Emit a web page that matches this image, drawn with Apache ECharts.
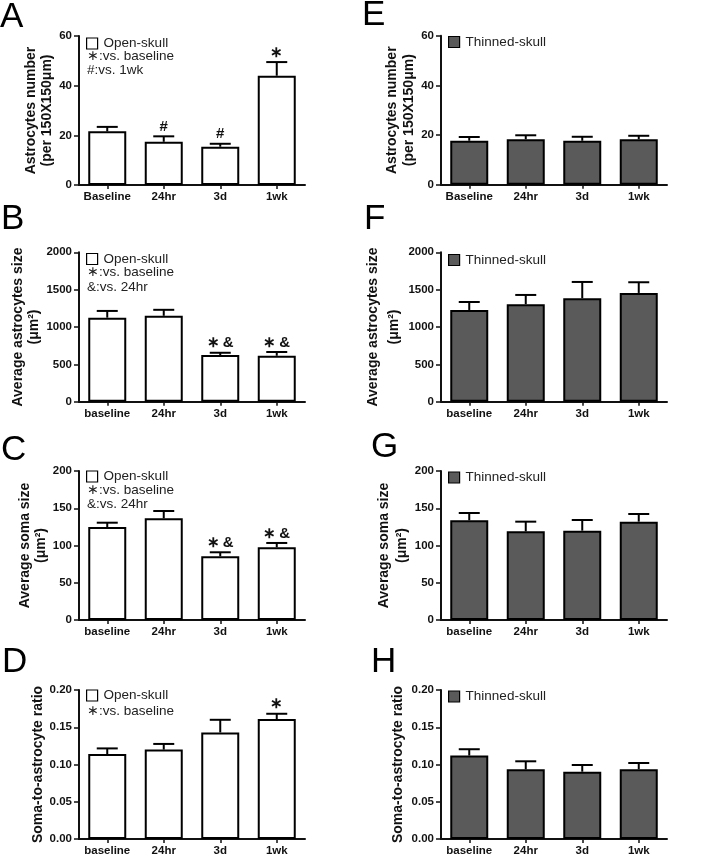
<!DOCTYPE html>
<html>
<head>
<meta charset="utf-8">
<script src="https://cdn.jsdelivr.net/npm/echarts@6/dist/echarts.min.js"></script>
<style>html,body{margin:0;padding:0;background:#fff;}#c{width:701px;height:867px;}</style>
</head>
<body>
<div id="c"></div>
<script>
// ---------- data ----------
const catsTop = ['Baseline', '24hr', '3d', '1wk'];
const catsLow = ['baseline', '24hr', '3d', '1wk'];

// A / E : astrocytes number (per 150x150 µm)
const openNumMean = [21.6, 17.4, 15.4, 44.0];
const openNumErr  = [1.8, 2.2, 1.2, 5.5];
const openNumSig  = ['', '#', '#', '∗'];
const thinNumMean = [17.7, 18.3, 17.7, 18.3];
const thinNumErr  = [1.5, 1.6, 1.6, 1.4];

// B / F : average astrocyte size (µm²)
const openSizeMean = [1125, 1150, 625, 615];
const openSizeErr  = [90, 80, 30, 50];
const openSizeSig  = ['', '', '∗\u2009&', '∗\u2009&'];
const thinSizeMean = [1228, 1305, 1385, 1456];
const thinSizeErr  = [107, 124, 218, 143];

// C / G : average soma size (µm²)
const openSomaMean = [124.8, 136.5, 85.5, 97.6];
const openSomaErr  = [5.8, 9.8, 5.4, 5.8];
const openSomaSig  = ['', '', '∗\u2009&', '∗\u2009&'];
const thinSomaMean = [133.8, 119.0, 119.9, 132.0];
const thinSomaErr  = [9.8, 13.0, 14.3, 10.3];

// D / H : soma-to-astrocyte ratio
const openRatioMean = [0.114, 0.120, 0.143, 0.161];
const openRatioErr  = [0.0076, 0.0076, 0.017, 0.0071];
const openRatioSig  = ['', '', '', '∗'];
const thinRatioMean = [0.112, 0.0935, 0.0903, 0.0935];
const thinRatioErr  = [0.0085, 0.0108, 0.009, 0.0085];

// y-axis scales
const yNum   = {max: 60,   interval: 20};
const ySize  = {max: 2000, interval: 500};
const ySoma  = {max: 200,  interval: 50};
const yRatio = {max: 0.20, interval: 0.05};

const nameNum   = 'Astrocytes number\n(per 150X150μm)';
const nameSize  = 'Average astrocytes size\n(μm²)';
const nameSoma  = 'Average soma size\n(μm²)';
const nameRatio = 'Soma-to-astrocyte ratio';

const notesA = ['∗:vs. baseline', '#:vs. 1wk'];
const notesB = ['∗:vs. baseline', '&:vs. 24hr'];
const notesC = ['∗:vs. baseline', '&:vs. 24hr'];
const notesD = ['∗:vs. baseline'];

// ---------- panel definitions ----------
const panels = [
  {L:'A', cats:catsTop, mean:openNumMean, err:openNumErr, sig:openNumSig, y:yNum, name:nameNum, open:true, notes:notesA},
  {L:'B', cats:catsLow, mean:openSizeMean, err:openSizeErr, sig:openSizeSig, y:ySize, name:nameSize, open:true, notes:notesB},
  {L:'C', cats:catsLow, mean:openSomaMean, err:openSomaErr, sig:openSomaSig, y:ySoma, name:nameSoma, open:true, notes:notesC},
  {L:'D', cats:catsLow, mean:openRatioMean, err:openRatioErr, sig:openRatioSig, y:yRatio, name:nameRatio, open:true, notes:notesD},
  {L:'E', cats:catsTop, mean:thinNumMean, err:thinNumErr, sig:null, y:yNum, name:nameNum, open:false, notes:[]},
  {L:'F', cats:catsLow, mean:thinSizeMean, err:thinSizeErr, sig:null, y:ySize, name:nameSize, open:false, notes:[]},
  {L:'G', cats:catsLow, mean:thinSomaMean, err:thinSomaErr, sig:null, y:ySoma, name:nameSoma, open:false, notes:[]},
  {L:'H', cats:catsLow, mean:thinRatioMean, err:thinRatioErr, sig:null, y:yRatio, name:nameRatio, open:false, notes:[]}
];

// ---------- layout (pixels) ----------
const layout = [
  {left:79,  top:36,    h:149,   gap:23, lh:16, letter:[0,17],    leg:[86,36.5],  notesY:[56.7,70.7]},
  {left:79,  top:252.3, h:149.4, gap:25, lh:16, letter:[1,219],   leg:[86,252],   notesY:[272.7,287.3]},
  {left:79,  top:471,   h:149,   gap:25, lh:16, letter:[1,450],   leg:[86,469.5], notesY:[490.3,504.3]},
  {left:79,  top:690,   h:149,   gap:28, lh:16, letter:[2,662],   leg:[86,688.5], notesY:[711]},
  {left:441, top:35.7,  h:149,   gap:23, lh:17, letter:[362,15],  leg:[448,35],   notesY:[]},
  {left:441, top:252.3, h:149.4, gap:32, lh:21, letter:[364,219], leg:[448,253],  notesY:[]},
  {left:441, top:471,   h:149,   gap:27, lh:18, letter:[371,447], leg:[448,470.5],notesY:[]},
  {left:441, top:690,   h:149,   gap:35, lh:16, letter:[371,662], leg:[448,689.5],notesY:[]}
];
const gridW = 226;
const FONT = "'Liberation Sans', Arial, Helvetica, sans-serif";

const option = {
  animation: false,
  backgroundColor: '#fff',
  grid: [], xAxis: [], yAxis: [], series: [], legend: [], graphic: []
};

panels.forEach((p, k) => {
  const lo = layout[k];
  option.grid.push({left: lo.left, top: lo.top, width: gridW, height: lo.h, containLabel: false, outerBoundsMode: 'none'});
  option.xAxis.push({
    type: 'category', gridIndex: k, data: p.cats,
    axisLine: {show: true, lineStyle: {color: '#111', width: 2}},
    axisTick: {show: true, alignWithLabel: true, interval: 0, length: 4, lineStyle: {color: '#111', width: 1.5}},
    axisLabel: {color: '#111', fontWeight: 'bold', fontSize: 11.5, fontFamily: FONT, margin: 6, interval: 0},
    splitLine: {show: false}
  });
  const dec = p.y.interval < 1 ? 2 : 0;
  option.yAxis.push({
    type: 'value', gridIndex: k, min: 0, max: p.y.max, interval: p.y.interval,
    axisLine: {show: true, lineStyle: {color: '#111', width: 2}},
    axisTick: {show: true, length: 5, lineStyle: {color: '#111', width: 1.5}},
    axisLabel: {color: '#111', fontWeight: 'bold', fontSize: 11.5, fontFamily: FONT, margin: 7,
      formatter: v => v.toFixed(dec)},
    splitLine: {show: false},
    name: p.name, nameLocation: 'middle', nameRotate: 90, nameGap: lo.gap,
    nameTextStyle: {color: '#111', fontWeight: 'bold', fontSize: 14, fontFamily: FONT, lineHeight: lo.lh}
  });
  const sname = p.open ? 'Open-skull' : 'Thinned-skull';
  option.series.push({
    type: 'bar', name: sname, xAxisIndex: k, yAxisIndex: k, data: p.mean, barWidth: 38,
    itemStyle: {color: p.open ? '#ffffff' : '#5a5a5a', borderColor: '#000', borderWidth: 2},
    z: 2
  });
  const sig = p.sig;
  option.series.push({
    type: 'custom', xAxisIndex: k, yAxisIndex: k, z: 3,
    data: p.mean.map((m, i) => [i, m, p.err[i]]),
    renderItem: function (params, api) {
      const i = api.value(0), m = api.value(1), e = api.value(2);
      const b = api.coord([i, m]), t = api.coord([i, m + e]);
      const hw = 10.5;
      const st = {stroke: '#000', lineWidth: 2};
      const ch = [
        {type: 'line', shape: {x1: b[0], y1: b[1], x2: t[0], y2: t[1]}, style: st},
        {type: 'line', shape: {x1: t[0] - hw, y1: t[1], x2: t[0] + hw, y2: t[1]}, style: st}
      ];
      if (sig && sig[params.dataIndex]) {
        ch.push({type: 'text', x: t[0], y: t[1] - 2,
          style: {text: sig[params.dataIndex], fill: '#111', font: 'bold 15px ' + FONT,
            textAlign: 'center', textVerticalAlign: 'bottom'}});
      }
      return {type: 'group', children: ch};
    }
  });
  option.legend.push({
    data: [sname], left: lo.leg[0], top: lo.leg[1], padding: 0, icon: 'rect',
    itemWidth: 11, itemHeight: 11, selectedMode: false,
    itemStyle: {borderColor: '#000', borderWidth: 1.2},
    textStyle: {fontSize: 13.5, fontFamily: FONT, color: '#222', padding: [0, 0, 0, 1]}
  });
  p.notes.forEach((txt, j) => {
    option.graphic.push({type: 'text', left: 87, top: lo.notesY[j] - 7,
      style: {text: txt, fill: '#222', font: '13.5px ' + FONT}});
  });
  option.graphic.push({type: 'text', x: lo.letter[0], y: lo.letter[1],
    style: {text: p.L, fill: '#000', font: '35px ' + FONT, textVerticalAlign: 'middle'}});
});

const chart = echarts.init(document.getElementById('c'), null, {renderer: 'canvas'});
chart.setOption(option);
</script>
</body>
</html>
